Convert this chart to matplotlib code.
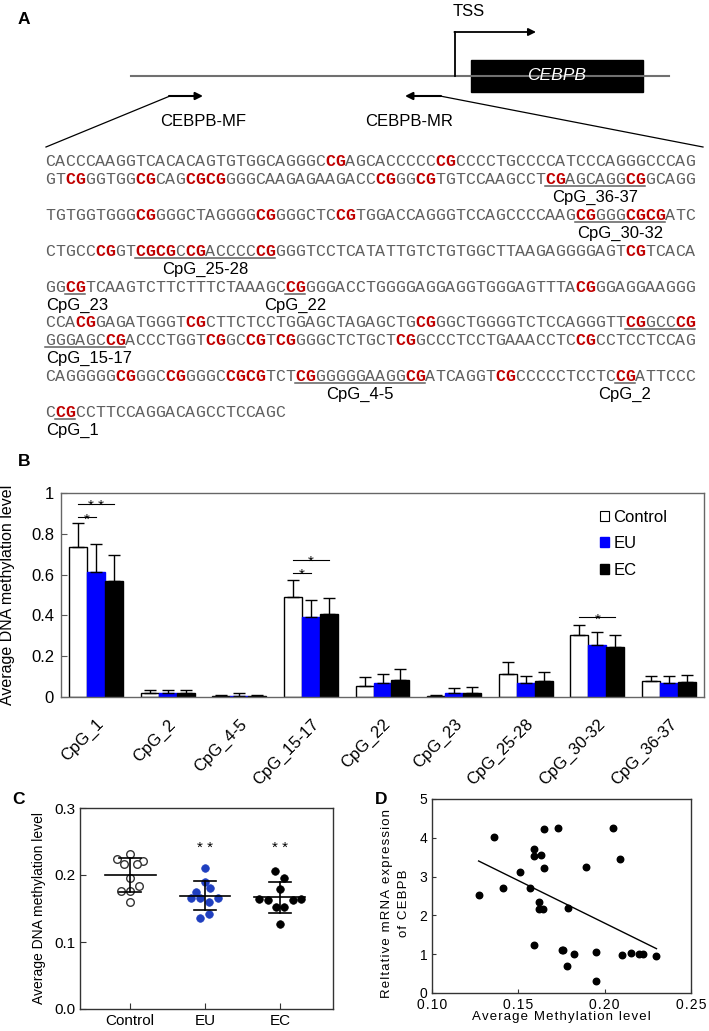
import re
import numpy as np
import matplotlib
matplotlib.use('Agg')
import matplotlib.pyplot as plt
from matplotlib.patches import Rectangle

plt.rcParams['font.family'] = ['Liberation Sans', 'DejaVu Sans']

# ------------------------------------------------------------------ DATA
seq_lines = [
    "CACCCAAGGTCACACAGTGTGGCAGGGCCGAGCACCCCCCGCCCCTGCCCCATCCCAGGGCCCAG",
    "GTCGGGTGGCGCAGCGCGGGGCAAGAGAAGACCCGGGCGTGTCCAAGCCTCGAGCAGGCGGCAGG",
    "TGTGGTGGGCGGGGCTAGGGGCGGGGCTCCGTGGACCAGGGTCCAGCCCCAAGCGGGGCGCGATC",
    "CTGCCCGGTCGCGCCGACCCCCGGGGTCCTCATATTGTCTGTGGCTTAAGAGGGGAGTCGTCACA",
    "GGCGTCAAGTCTTCTTTCTAAAGCCGGGGACCTGGGGAGGAGGTGGGAGTTTACGGGAGGAAGGG",
    "CCACGGAGATGGGTCGCTTCTCCTGGAGCTAGAGCTGCGGGCTGGGGTCTCCAGGGTTCGGCCCG",
    "GGGAGCCGACCCTGGTCGGCCGTCGGGGCTCTGCTCGGCCCTCCTGAAACCTCCGCCTCCTCCAG",
    "CAGGGGGCGGGCCGGGGCCGCGTCTCGGGGGGAAGGCGATCAGGTCGCCCCCTCCTCCGATTCCC",
    "CCGCCTTCCAGGACAGCCTCCAGC",
]
# (row, first char, last char, label, label alignment)
cpg_sites = [
    (1, 50, 59, "CpG_36-37", "center"),
    (2, 53, 61, "CpG_30-32", "center"),
    (3, 9, 22, "CpG_25-28", "center"),
    (4, 2, 3, "CpG_23", "left"),
    (4, 24, 25, "CpG_22", "center"),
    (5, 58, 64, None, None),
    (6, 0, 7, "CpG_15-17", "left"),
    (7, 25, 37, "CpG_4-5", "center"),
    (7, 57, 58, "CpG_2", "center"),
    (8, 1, 2, "CpG_1", "left"),
]

cpg_groups = ["CpG_1", "CpG_2", "CpG_4-5", "CpG_15-17", "CpG_22",
              "CpG_23", "CpG_25-28", "CpG_30-32", "CpG_36-37"]
control_mean = [0.737, 0.022, 0.005, 0.489, 0.052, 0.005, 0.111, 0.302, 0.077]
control_err = [0.114, 0.010, 0.006, 0.084, 0.044, 0.006, 0.061, 0.051, 0.028]
eu_mean = [0.611, 0.020, 0.006, 0.391, 0.068, 0.020, 0.070, 0.255, 0.070]
eu_err = [0.140, 0.015, 0.012, 0.086, 0.043, 0.024, 0.033, 0.064, 0.033]
ec_mean = [0.570, 0.022, 0.004, 0.407, 0.082, 0.020, 0.077, 0.244, 0.072]
ec_err = [0.126, 0.010, 0.006, 0.080, 0.055, 0.029, 0.047, 0.058, 0.037]
series_names = ["Control", "EU", "EC"]
# significance: (group, series a, series b, bracket height, label)
sig_marks = [(0, 0, 1, 0.882, "*"), (0, 0, 2, 0.946, "* *"),
             (3, 0, 1, 0.608, "*"), (3, 0, 2, 0.672, "*"),
             (7, 0, 2, 0.392, "*")]

c_groups = ["Control", "EU", "EC"]
c_control = [0.231, 0.224, 0.221, 0.216, 0.216, 0.196, 0.184, 0.176, 0.176, 0.160]
c_eu = [0.210, 0.190, 0.180, 0.175, 0.165, 0.165, 0.165, 0.160, 0.142, 0.136]
c_ec = [0.206, 0.196, 0.179, 0.164, 0.163, 0.162, 0.164, 0.152, 0.152, 0.127]
c_stars = ["", "* *", "* *"]

d_meth = [0.127, 0.136, 0.141, 0.151, 0.157, 0.159, 0.159, 0.159, 0.162, 0.162,
          0.164, 0.163, 0.165, 0.165, 0.173, 0.175, 0.176, 0.178, 0.179, 0.182,
          0.189, 0.195, 0.195, 0.205, 0.209, 0.210, 0.215, 0.220, 0.222, 0.230]
d_expr = [2.52, 4.03, 2.70, 3.13, 2.70, 3.72, 3.52, 1.25, 2.35, 2.17,
          2.17, 3.55, 4.22, 3.22, 4.25, 1.10, 1.12, 0.70, 2.20, 1.00,
          3.25, 1.05, 0.30, 4.25, 3.45, 0.97, 1.03, 1.00, 1.00, 0.95]

# ------------------------------------------------------------------ LAYOUT
W, H = 709, 1031
fig = plt.figure(figsize=(W / 100, H / 100), dpi=100)


def fx(px):
    return px / W


def fy(py):
    return 1 - py / H


# overlay axes in pixel coordinates for panel A
ax0 = fig.add_axes([0, 0, 1, 1])
ax0.set_xlim(0, W)
ax0.set_ylim(H, 0)
ax0.axis('off')

GRAY = '#5f5f5f'
RED = '#c00000'

# panel letters
for lab, (px, py) in zip("ABCD", [(18, 20), (18, 461), (12, 800), (375, 800)]):
    ax0.text(px, py, lab, fontsize=12.5, fontweight='bold', ha='left', va='center')

# gene diagram
ax0.plot([131, 669], [76, 76], color='#707070', lw=1.5)
ax0.add_patch(Rectangle((471, 60), 172, 32, facecolor='black', edgecolor='black'))
ax0.text(557, 76, "CEBPB", color='white', style='italic', fontsize=12.5,
         ha='center', va='center')
ax0.plot([455, 455], [76, 32], color='black', lw=1.3)
ax0.annotate('', xy=(536, 32), xytext=(454.4, 32),
             arrowprops=dict(arrowstyle='-|>', color='black', lw=1.3,
                             mutation_scale=11, shrinkA=0, shrinkB=0))
ax0.text(469, 12, "TSS", fontsize=12, ha='center', va='center')
ax0.annotate('', xy=(203, 96), xytext=(169, 96),
             arrowprops=dict(arrowstyle='-|>', color='black', lw=1.5,
                             mutation_scale=11, shrinkA=0, shrinkB=0))
ax0.annotate('', xy=(405, 96), xytext=(441, 96),
             arrowprops=dict(arrowstyle='-|>', color='black', lw=1.5,
                             mutation_scale=11, shrinkA=0, shrinkB=0))
ax0.text(203, 122, "CEBPB-MF", fontsize=12, ha='center', va='center')
ax0.text(409, 122, "CEBPB-MR", fontsize=12, ha='center', va='center')
ax0.plot([170, 46], [96, 147], color='black', lw=0.9)
ax0.plot([440, 703], [96, 147], color='black', lw=0.9)

# sequence
x0, cw = 45.0, 10.0
slot0, slot_h = 162.0, 17.87
row_slots = [0, 1, 3, 5, 7, 9, 10, 12, 14]
for r, line in enumerate(seq_lines):
    y = slot0 + slot_h * row_slots[r]
    red = np.zeros(len(line), bool)
    for m in re.finditer("CG", line):
        red[m.start():m.end()] = True
    for i, ch in enumerate(line):
        ax0.text(x0 + cw * (i + 0.5), y, ch, family='Liberation Mono',
                 fontsize=12, ha='center', va='center',
                 color=RED if red[i] else GRAY,
                 fontweight='bold' if red[i] else 'normal')
for r, a, b, lab, al in cpg_sites:
    y = slot0 + slot_h * row_slots[r]
    ax0.plot([x0 + cw * a, x0 + cw * (b + 1)], [y + 6.5, y + 6.5],
             color=GRAY, lw=1.1)
    if lab:
        ly = y + slot_h
        if al == 'left':
            ax0.text(46, ly, lab, fontsize=12, ha='left', va='center')
        else:
            ax0.text(x0 + cw * (a + b + 1) / 2, ly, lab, fontsize=12,
                     ha='center', va='center')

# ------------------------------------------------------------------ PANEL B
bx0, bx1, by0, by1 = 61, 704, 493, 697
axB = fig.add_axes([fx(bx0), fy(by1), fx(bx1) - fx(bx0), fy(by0) - fy(by1)])
xg = np.arange(len(cpg_groups))
bw = 0.25
styles = [dict(color='white', edgecolor='black'),
          dict(color='#0000ff', edgecolor='#0000ff'),
          dict(color='black', edgecolor='black')]
means = [control_mean, eu_mean, ec_mean]
errs = [control_err, eu_err, ec_err]
for k in range(3):
    m = np.array(means[k])
    e = np.array(errs[k])
    axB.bar(xg + (k - 1) * bw, m, bw, linewidth=1.0, label=series_names[k],
            yerr=[np.zeros_like(e), e],
            error_kw=dict(ecolor='black', elinewidth=1.0, capsize=4, capthick=1.0),
            **styles[k])
for g, a, b, h, lab in sig_marks:
    xa = g + (a - 1) * bw
    xb = g + (b - 1) * bw
    axB.plot([xa, xb], [h, h], color='black', lw=0.8)
    axB.annotate(lab, ((xa + xb) / 2, h), xytext=(0, -4.5), textcoords='offset points',
                 ha='center', va='baseline', fontsize=11)
axB.set_xlim(-0.49, 8.49)
axB.set_ylim(0, 1)
axB.set_yticks([0, 0.2, 0.4, 0.6, 0.8, 1.0])
axB.set_yticklabels(['0', '0.2', '0.4', '0.6', '0.8', '1'])
axB.set_xticks(xg)
axB.set_xticklabels(cpg_groups, rotation=45, ha='right', rotation_mode='anchor')
axB.tick_params(axis='y', direction='in', length=4, labelsize=12, pad=5, color='#555')
axB.tick_params(axis='x', length=0, labelsize=12, pad=14)
for s in axB.spines.values():
    s.set_color('#666')
    s.set_linewidth(1.0)
axB.set_ylabel("Average DNA methylation level", fontsize=11.5)
axB.yaxis.set_label_coords((15 - bx0) / (bx1 - bx0), 0.5)
handles = [Rectangle((0, 0), 1, 1, facecolor='white', edgecolor='black', lw=0.8),
           Rectangle((0, 0), 1, 1, facecolor='#0000ff', edgecolor='#0000ff'),
           Rectangle((0, 0), 1, 1, facecolor='black', edgecolor='black')]
axB.legend(handles, series_names, loc='upper left',
           bbox_to_anchor=((600 - bx0) / (bx1 - bx0), (by1 - 510) / (by1 - by0)),
           frameon=False, fontsize=12, handlelength=0.55, handleheight=0.55,
           handletextpad=0.25, labelspacing=0.68, borderpad=0, borderaxespad=0)

# ------------------------------------------------------------------ PANEL C
axC = fig.add_axes([fx(80), fy(1009), fx(333) - fx(80), fy(808) - fy(1009)])
jitter = [
    [0.0, -0.178, 0.178, -0.084, 0.089, 0.0, 0.124, -0.116, 0.0, 0.0],
    [0.0, 0.0, 0.067, -0.12, -0.187, -0.062, 0.178, 0.058, 0.058, -0.062],
    [-0.062, 0.058, 0.0, -0.284, -0.16, 0.169, 0.28, -0.053, 0.058, 0.0],
]
vals_all = [c_control, c_eu, c_ec]
mstyle = [dict(facecolor='white', edgecolor='#333333', linewidths=1.0),
          dict(facecolor='#1f3fbf', edgecolor='#1f3fbf', linewidths=0.5),
          dict(facecolor='black', edgecolor='black', linewidths=0.5)]
for i, vals in enumerate(vals_all):
    v = np.array(vals)
    axC.scatter(i + np.array(jitter[i]), v, s=30, zorder=2, **mstyle[i])
    mu = v.mean()
    sd = v.std(ddof=1)
    axC.plot([i - 0.34, i + 0.34], [mu, mu], color='black', lw=1.2, zorder=3)
    axC.plot([i - 0.145, i + 0.145], [mu + sd, mu + sd], color='black', lw=1.2, zorder=3)
    axC.plot([i - 0.145, i + 0.145], [mu - sd, mu - sd], color='black', lw=1.2, zorder=3)
    axC.plot([i, i], [mu - sd, mu + sd], color='black', lw=1.2, zorder=3)
    if c_stars[i]:
        axC.text(i, 0.2405, c_stars[i], ha='center', va='center', fontsize=11)
axC.set_xlim(-0.67, 2.71)
axC.set_ylim(0, 0.3)
axC.set_yticks([0, 0.1, 0.2, 0.3])
axC.set_yticklabels(['0.0', '0.1', '0.2', '0.3'])
axC.set_xticks(range(3))
axC.set_xticklabels(c_groups)
axC.tick_params(direction='in', length=4, labelsize=11, color='#333')
for s in axC.spines.values():
    s.set_color('#333333')
    s.set_linewidth(1.0)
axC.set_ylabel("Average DNA methylation level", fontsize=10, labelpad=6)

# ------------------------------------------------------------------ PANEL D
def spaced(s):
    return '\u200a'.join(s)


dx0, dx1, dy0, dy1 = 432, 691, 799, 993
axD = fig.add_axes([fx(dx0), fy(dy1), fx(dx1) - fx(dx0), fy(dy0) - fy(dy1)])
dm = np.array(d_meth)
de = np.array(d_expr)
axD.scatter(dm, de, s=22, color='black', zorder=3)
slope, icpt = np.polyfit(dm, de, 1)
xl = np.array([dm.min(), dm.max()])
axD.plot(xl, slope * xl + icpt, color='black', lw=1.0)
axD.set_xlim(0.10, 0.25)
axD.set_ylim(0, 5)
axD.set_xticks([0.10, 0.15, 0.20, 0.25])
axD.set_xticklabels([spaced(t) for t in ['0.10', '0.15', '0.20', '0.25']])
axD.set_yticks(range(6))
axD.set_yticklabels([str(t) for t in range(6)])
axD.tick_params(direction='in', length=3, labelsize=10, color='#333')
for s in axD.spines.values():
    s.set_color('#333333')
    s.set_linewidth(1.0)
axD.set_xlabel(spaced("Average Methylation level"), fontsize=9.5)
axD.xaxis.set_label_coords(0.5, (dy1 - 1011) / (dy1 - dy0))
axD.set_ylabel(spaced("Reltative mRNA expression") + "\n" + spaced("of CEBPB"),
               fontsize=9.5, linespacing=1.6)
axD.yaxis.set_label_coords((410 - dx0) / (dx1 - dx0), (dy1 - 903) / (dy1 - dy0))

fig.savefig('out.png', dpi=100)
